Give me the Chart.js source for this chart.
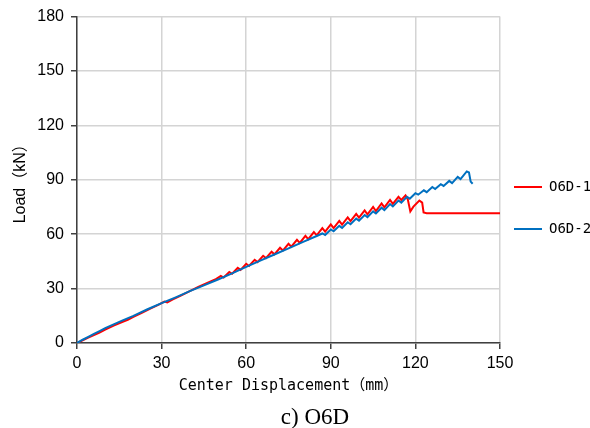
<!DOCTYPE html>
<html>
<head>
<meta charset="utf-8">
<script src="https://cdn.jsdelivr.net/npm/chart.js@4/dist/chart.umd.min.js"></script>
<style>
  html, body { margin: 0; padding: 0; background: #fff; }
  #wrap { position: relative; width: 590px; height: 428px; }
  #caption { position: absolute; left: 215px; width: 200px; top: 405px; text-align: center;
    font: 23px/1 "Liberation Serif", "Times New Roman", serif; color: #000; }
</style>
</head>
<body>
<div id="wrap">
  <canvas id="chart" width="590" height="428"></canvas>
  <div id="caption">c) O6D</div>
</div>
<script>
"use strict";

const xTicks = [0, 30, 60, 90, 120, 150];
const yTicks = [0, 30, 60, 90, 120, 150, 180];

// O6D-1 (red)
const o6d1Disp = [0, 2, 4, 6, 8, 10, 13, 16, 18, 20, 23, 26, 29, 31, 32, 34, 37, 40, 43, 46, 49,
  51, 52, 54, 55, 57, 58, 60, 61, 63, 64, 66, 67, 69, 70, 72, 73, 75, 76, 78, 79, 81, 82,
  84, 85, 87, 88, 90, 91, 93, 94, 96, 97, 99, 100, 102, 103, 105, 106, 108, 109, 111, 112,
  114, 115, 116.5, 117.3, 118.2, 119.3, 121.4, 122.4, 122.9, 124, 150];
const o6d1Load = [0, 1.5, 3.0, 4.4, 5.8, 7.4, 9.6, 11.6, 12.8, 14.4, 16.6, 18.9, 21.2, 22.8, 22.4, 24.0, 26.3, 28.6, 30.9, 33.0, 35.0,
  37.0, 36.1, 39.2, 38.2, 41.4, 40.3, 43.7, 42.5, 45.9, 44.6, 48.1, 46.8, 50.3, 48.9, 52.5, 51.0, 54.7, 53.1, 56.9, 55.2, 59.1, 57.3,
  61.2, 59.4, 63.3, 61.4, 65.4, 63.4, 67.4, 65.3, 69.3, 67.2, 71.2, 69.1, 73.1, 71.0, 75.0, 72.8, 77.0, 74.8, 78.9, 76.7,
  80.6, 78.9, 81.4, 79.2, 72.6, 75.2, 78.6, 77.4, 72.0, 71.6, 71.6];

// O6D-2 (blue)
const o6d2Disp = [0, 2, 4, 6, 8, 10, 13, 16, 20, 25, 30, 35, 40, 45, 50, 55, 60, 65, 70, 75, 80, 85,
  87, 88, 90, 91, 93, 94, 96, 97, 99, 100, 102, 103, 105, 106, 108, 109, 111, 112, 114, 115,
  117, 118, 120, 121, 123, 124, 126, 127, 129, 130, 132, 133, 135, 136, 138.2, 139, 139.6, 140.3];
const o6d2Load = [0, 1.8, 3.4, 5.0, 6.6, 8.2, 10.3, 12.3, 15.0, 18.6, 22.0, 25.2, 28.6, 31.8, 35.0, 38.4, 42.0, 45.4, 48.8, 52.2, 55.6, 59.0,
  60.4, 59.6, 62.6, 61.6, 64.6, 63.5, 66.6, 65.5, 68.6, 67.5, 70.6, 69.4, 72.6, 71.4, 74.6, 73.3, 76.6, 75.3, 78.6, 77.4,
  80.6, 79.6, 82.6, 81.8, 84.2, 83.2, 86.0, 84.9, 87.6, 86.6, 89.4, 88.2, 91.6, 90.4, 94.6, 94.0, 89.0, 87.8];

const pts = (xs, ys) => xs.map((x, i) => ({ x, y: ys[i] }));

const GRID = "#d4d4d4";
const AXIS = "#404040";
const tickFont = { family: "'Liberation Sans', Arial, sans-serif", size: 16 };

new Chart(document.getElementById("chart"), {
  type: "line",
  data: {
    datasets: [
      { label: "O6D-1", data: pts(o6d1Disp, o6d1Load), borderColor: "#ff0000", backgroundColor: "#ff0000",
        borderWidth: 2, pointRadius: 0, order: 1 },
      { label: "O6D-2", data: pts(o6d2Disp, o6d2Load), borderColor: "#0070c0", backgroundColor: "#0070c0",
        borderWidth: 2, pointRadius: 0, order: 0 },
    ],
  },
  options: {
    responsive: false,
    animation: false,
    layout: { padding: { top: 10, left: 0, right: 0, bottom: 23 } },
    plugins: {
      legend: {
        position: "right",
        maxWidth: 90,
        // empty title only pushes the rows down a little
        title: { display: true, text: "", font: { size: 15, lineHeight: 1 }, padding: 0 },
        labels: {
          usePointStyle: true, pointStyle: "line", pointStyleWidth: 28,
          padding: 14, color: "#000",
          font: { family: "'DejaVu Sans Mono', monospace", size: 14, lineHeight: 2 },
          sort: (a, b) => a.datasetIndex - b.datasetIndex,
          // one-line arrays so each row takes the font's lineHeight
          generateLabels: (chart) => Chart.defaults.plugins.legend.labels.generateLabels(chart)
            .map((l) => ({ ...l, text: [l.text] })),
        },
      },
      tooltip: { enabled: false },
    },
    scales: {
      x: {
        type: "linear", min: 0, max: 150,
        afterBuildTicks: (s) => { s.ticks = xTicks.map((v) => ({ value: v })); },
        afterFit: (s) => { s.height = 62; },
        grid: { color: GRID, lineWidth: 1.5, tickColor: AXIS, tickLength: 6 },
        border: { color: AXIS, width: 1.5 },
        ticks: { color: "#000", font: tickFont, padding: 5 },
        title: { display: true, text: "Center Displacement（mm）", color: "#000",
          font: { family: "'DejaVu Sans Mono', 'Noto Sans CJK JP', monospace", size: 15 }, padding: { top: 4, bottom: 10 } },
      },
      y: {
        min: 0, max: 180,
        afterBuildTicks: (s) => { s.ticks = yTicks.map((v) => ({ value: v })); },
        afterFit: (s) => { s.width = 77; },
        grid: { color: GRID, lineWidth: 1.5, tickColor: AXIS, tickLength: 6 },
        border: { color: AXIS, width: 1.5 },
        ticks: { color: "#000", font: tickFont, padding: 7 },
        title: { display: true, text: "Load（kN）", color: "#000",
          font: { family: "'Liberation Sans', 'Noto Sans CJK JP', sans-serif", size: 16 }, padding: { top: 11, bottom: 0 } },
      },
    },
  },
});
</script>
</body>
</html>
